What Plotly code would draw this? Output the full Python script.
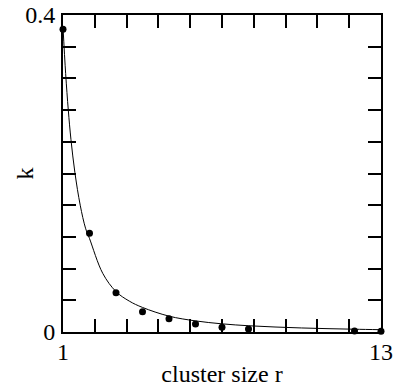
import plotly.graph_objects as go

# measured rate constant k against cluster size r
cluster_size = [1, 2, 3, 4, 5, 6, 7, 8, 12, 13]
k_measured = [0.382, 0.1245, 0.0496, 0.0256, 0.0168, 0.0101, 0.0059, 0.0038, 0.0013, 0.0009]

# fitted decay curve, sampled along r
curve_r = [1, 1.1, 1.2, 1.3, 1.45, 1.65, 1.85, 2, 2.5, 3, 3.5, 4, 5, 6, 7, 8, 9, 10, 11, 12, 13]
curve_k = [0.385, 0.326, 0.280, 0.243, 0.201, 0.160, 0.131, 0.118, 0.074, 0.051, 0.039,
           0.031, 0.020, 0.0140, 0.0103, 0.0079, 0.0063, 0.0051, 0.0042, 0.0035, 0.0029]

# tick positions; only the end ticks carry labels
x_ticks = [1, 2.2, 3.4, 4.6, 5.8, 7, 8.2, 9.4, 10.6, 11.8, 13]
x_labels = ["1", "", "", "", "", "", "", "", "", "", "13"]
y_ticks = [0, 0.04, 0.08, 0.12, 0.16, 0.2, 0.24, 0.28, 0.32, 0.36, 0.4]
y_labels = ["0", "", "", "", "", "", "", "", "", "", "0.4"]

FONT = "Liberation Serif"
SIZE = 24

fig = go.Figure()
fig.add_trace(go.Scatter(
    x=curve_r, y=curve_k, mode="lines",
    line=dict(color="black", width=1, shape="spline", smoothing=1.0),
    hoverinfo="skip", showlegend=False,
))
fig.add_trace(go.Scatter(
    x=cluster_size, y=k_measured, mode="markers",
    marker=dict(color="black", size=7),
    showlegend=False, cliponaxis=False,
))

axis_common = dict(
    showgrid=False, zeroline=False, automargin=False,
    showline=True, linecolor="black", linewidth=2, mirror="allticks",
    ticks="inside", ticklen=13, tickwidth=1.5, tickcolor="black",
    tickfont=dict(family=FONT, size=SIZE, color="black"),
    tickmode="array",
)

fig.update_xaxes(
    **axis_common,
    range=[1, 13], tickvals=x_ticks, ticktext=x_labels,
    ticklabelstandoff=-3,
    title=dict(text="cluster size r", font=dict(family=FONT, size=SIZE, color="black")),
)
fig.update_yaxes(
    **axis_common,
    range=[0, 0.4], tickvals=y_ticks, ticktext=y_labels,
    ticklabelstandoff=1,
)

# y-axis title
fig.add_annotation(
    text="k", textangle=-90, showarrow=False,
    xref="paper", yref="paper", x=0, y=0.5,
    xanchor="center", yanchor="middle", xshift=-39,
    font=dict(family=FONT, size=SIZE, color="black"),
)

fig.update_layout(
    width=395, height=387,
    margin=dict(l=63, r=14, t=15, b=55),
    paper_bgcolor="white", plot_bgcolor="white",
    font=dict(family=FONT, color="black"),
)

fig.write_html("out.html")
